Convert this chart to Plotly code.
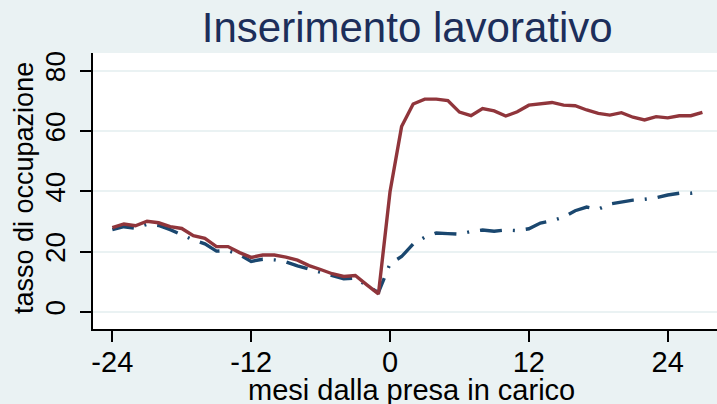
import plotly.graph_objects as go

# -----------------------------------------------------
# DATA
# -----------------------------------------------------
mesi = list(range(-24, 28))

# solid maroon line
occ_rossa = [
    28.0, 29.2, 28.6, 30.1, 29.6, 28.3, 27.7, 25.3, 24.4, 21.7,
    21.7, 19.7, 18.1, 18.9, 18.9, 18.2, 17.2, 15.4, 14.1, 12.7,
    11.8, 12.1, 9.0, 6.0,
    39.9, 61.5, 69.0, 70.6, 70.6, 70.1, 66.3, 65.1, 67.5, 66.7,
    65.0, 66.4, 68.6, 69.0, 69.5, 68.6, 68.4, 67.0, 65.9, 65.3,
    66.1, 64.6, 63.7, 64.8, 64.4, 65.1, 65.1, 66.2,
]

# navy dash-dot line
occ_blu = [
    27.3, 28.3, 27.8, 29.1, 28.7, 27.3, 25.6, 23.9, 22.6, 20.2,
    20.4, 19.0, 16.8, 17.5, 17.3, 16.6, 15.3, 14.2, 13.1, 12.1,
    11.0, 11.3, 8.7, 6.5,
    16.0, 18.4, 22.6, 24.8, 26.2, 26.0, 25.8, 26.7, 27.2, 26.8,
    27.2, 27.0, 27.6, 29.5, 30.3, 31.5, 33.6, 34.8, 34.1, 35.8,
    36.5, 37.1, 37.4, 37.9, 38.8, 39.4, 39.4, 40.1,
]

x_ticks = [-24, -12, 0, 12, 24]
x_labels = ["-24", "-12", "0", "12", "24"]
y_ticks = [0, 20, 40, 60, 80]
y_labels = ["0", "20", "40", "60", "80"]

# -----------------------------------------------------
# STYLE (Stata s2color look)
# -----------------------------------------------------
BG = "#EAF2F3"
NAVY = "#1A476F"
MAROON = "#90353B"
FONT = "Liberation Sans, Arial, sans-serif"

fig = go.Figure()

fig.add_trace(go.Scatter(
    x=mesi, y=occ_blu,
    mode="lines",
    line=dict(color=NAVY, width=3.4, dash="22px,11px,2px,11px"),
    name="controllo",
))

fig.add_trace(go.Scatter(
    x=mesi, y=occ_rossa,
    mode="lines",
    line=dict(color=MAROON, width=3.4),
    name="trattati",
))

fig.update_layout(
    width=717,
    height=404,
    margin=dict(l=93, r=0, t=53, b=75, autoexpand=False),
    paper_bgcolor=BG,
    plot_bgcolor="white",
    showlegend=False,
    font=dict(family=FONT, color="black"),
    title=dict(
        text="Inserimento lavorativo",
        font=dict(family=FONT, size=42, color="#1C2E5A"),
        x=0.568, xanchor="center",
        y=1 - 27 / 404, yanchor="middle",
        yref="container",
    ),
    annotations=[
        dict(
            text="mesi dalla presa in carico",
            xref="paper", yref="paper",
            x=(411 - 93) / 624, y=(329 - 390) / 276,
            xanchor="center", yanchor="middle",
            showarrow=False,
            font=dict(family=FONT, size=29, color="black"),
        ),
        dict(
            text="tasso di occupazione",
            xref="paper", yref="paper",
            x=(24 - 93) / 624, y=(329 - 188) / 276,
            xanchor="center", yanchor="middle",
            textangle=-90,
            showarrow=False,
            font=dict(family=FONT, size=27, color="black"),
        ),
    ],
)

fig.update_xaxes(
    range=[-25.67, 28.26],
    tickvals=x_ticks, ticktext=x_labels,
    ticks="outside", ticklen=11, tickwidth=1.5, tickcolor="black",
    showline=True, linecolor="black", linewidth=1.5,
    showgrid=False, zeroline=False,
    tickfont=dict(size=29),
    ticklabelstandoff=-5,
    automargin=False,
)

fig.update_yaxes(
    range=[-5.63, 85.9],
    tickvals=y_ticks, ticktext=y_labels,
    tickangle=-90,
    ticks="outside", ticklen=11, tickwidth=1.5, tickcolor="black",
    showline=True, linecolor="black", linewidth=1.5,
    showgrid=True, gridcolor=BG, gridwidth=1.5,
    zeroline=False,
    tickfont=dict(size=28),
    ticklabelstandoff=4,
    automargin=False,
)

# the page body has a default 8px margin; drop it so the figure sits at 0,0
fig.write_html(
    "out.html",
    config={"displayModeBar": False},
    post_script="document.body.style.margin='0';",
)
